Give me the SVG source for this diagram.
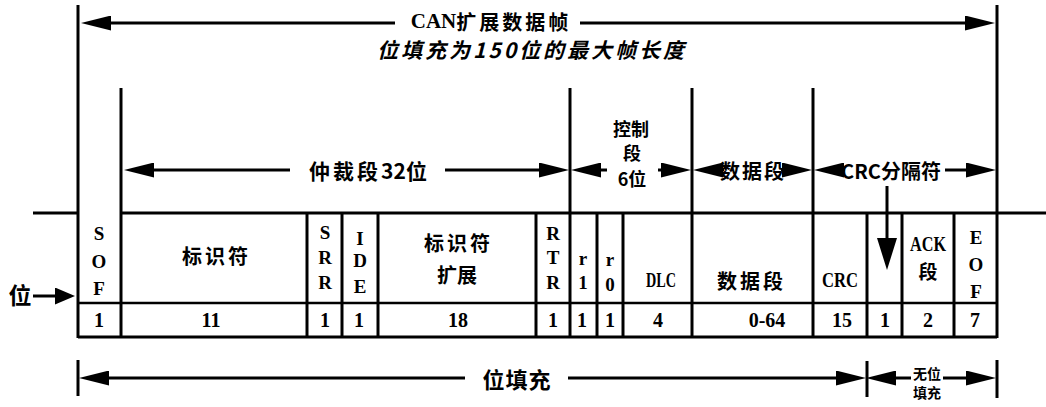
<svg xmlns="http://www.w3.org/2000/svg" width="1046" height="407" viewBox="0 0 1046 407">
<style>
.ln{stroke:#000;stroke-width:3;fill:none}
.thin{stroke:#000;stroke-width:2.5;fill:none}
.cj{font-family:"Noto Sans CJK SC","Noto Sans",sans-serif;font-weight:bold;fill:#000;text-anchor:middle;dominant-baseline:central}
.lt{font-family:"Liberation Serif","DejaVu Serif",serif;font-weight:bold;fill:#000;text-anchor:middle;dominant-baseline:central}
.num{font-size:20px}
.let{font-size:19px}
</style>
<defs>
<marker id="ah" viewBox="0 0 30 15" markerWidth="30" markerHeight="15" refX="1" refY="7.5" markerUnits="userSpaceOnUse" orient="auto">
<path d="M0,0 L30,7.5 L0,15 Z" fill="#000"/>
</marker>
<marker id="ahs" viewBox="0 0 20 17" markerWidth="20" markerHeight="17" refX="1" refY="8.5" markerUnits="userSpaceOnUse" orient="auto">
<path d="M0,0 L20,8.5 L0,17 Z" fill="#000"/>
</marker>
</defs>
<rect width="1046" height="407" fill="#fff"/>

<!-- frame and table lines -->
<g id="frame">
<line class="ln" x1="78" y1="5" x2="78" y2="338"/>
<line class="ln" x1="997" y1="5" x2="997" y2="338"/>
<line class="ln" x1="121" y1="88" x2="121" y2="338"/>
<line class="ln" x1="570" y1="88" x2="570" y2="338"/>
<line class="ln" x1="692" y1="88" x2="692" y2="338"/>
<line class="ln" x1="813" y1="88" x2="813" y2="338"/>
<line class="ln" x1="33" y1="213" x2="78" y2="213"/>
<line class="ln" x1="121" y1="213" x2="1046" y2="213"/>
<line class="thin" x1="78" y1="303" x2="997" y2="303"/>
<line class="ln" x1="78" y1="337" x2="997" y2="337"/>
<line class="ln" x1="307" y1="213" x2="307" y2="338"/>
<line class="ln" x1="342" y1="213" x2="342" y2="338"/>
<line class="ln" x1="378" y1="213" x2="378" y2="338"/>
<line class="ln" x1="536" y1="213" x2="536" y2="338"/>
<line class="ln" x1="597" y1="213" x2="597" y2="338"/>
<line class="ln" x1="623" y1="213" x2="623" y2="338"/>
<line class="ln" x1="867" y1="213" x2="867" y2="338"/>
<line class="ln" x1="902" y1="213" x2="902" y2="338"/>
<line class="ln" x1="954" y1="213" x2="954" y2="338"/>
</g>

<!-- titles -->
<g id="title">
<text class="cj" x="491" y="21" font-size="20"><tspan font-family="Liberation Serif,serif" font-size="21">CAN</tspan><tspan letter-spacing="3">扩展数据帧</tspan></text>
<text class="cj" x="532" y="49" font-size="21" font-style="italic" letter-spacing="3">位填充为150位的最大帧长度</text>
</g>

<!-- section labels -->
<g id="sec-arb"><text class="cj" x="368" y="170" font-size="21"><tspan letter-spacing="3">仲裁段</tspan>32位</text></g>
<g id="sec-ctrl">
<text class="cj" x="631" y="128" font-size="18">控制</text>
<text class="cj" x="632" y="152" font-size="18">段</text>
<text class="cj" x="632" y="178" font-size="18">6位</text>
</g>
<g id="sec-data"><text class="cj" x="752" y="170" font-size="20" textLength="64" lengthAdjust="spacing">数据段</text></g>
<g id="sec-crc"><text class="cj" x="891" y="170" font-size="20">CRC分隔符</text></g>

<!-- cells -->
<g id="c-sof">
<text class="lt let" x="99" y="233">S</text><text class="lt let" x="99" y="261">O</text><text class="lt let" x="99" y="288">F</text>
<text class="lt num" x="99" y="320">1</text>
</g>
<g id="c-id">
<text class="cj" x="215" y="255" font-size="20" textLength="66" lengthAdjust="spacing">标识符</text>
<text class="lt num" x="211" y="320">11</text>
</g>
<g id="c-srr">
<text class="lt let" x="325" y="232">S</text><text class="lt let" x="325" y="257">R</text><text class="lt let" x="325" y="282">R</text>
<text class="lt num" x="325" y="320">1</text>
</g>
<g id="c-ide">
<text class="lt let" x="360" y="238">I</text><text class="lt let" x="360" y="260">D</text><text class="lt let" x="360" y="286">E</text>
<text class="lt num" x="359" y="320">1</text>
</g>
<g id="c-idext">
<text class="cj" x="457" y="242" font-size="20" textLength="66" lengthAdjust="spacing">标识符</text>
<text class="cj" x="457" y="274" font-size="20">扩展</text>
<text class="lt num" x="458" y="320">18</text>
</g>
<g id="c-rtr">
<text class="lt let" x="553" y="233">R</text><text class="lt let" x="553" y="257">T</text><text class="lt let" x="553" y="282">R</text>
<text class="lt num" x="553" y="320">1</text>
</g>
<g id="c-r1">
<text class="lt let" x="583" y="258">r</text><text class="lt let" x="583" y="282">1</text>
<text class="lt num" x="582" y="320">1</text>
</g>
<g id="c-r0">
<text class="lt let" x="610" y="259">r</text><text class="lt let" x="610" y="284">0</text>
<text class="lt num" x="610" y="320">1</text>
</g>
<g id="c-dlc">
<text class="lt" x="661" y="279" font-size="22" textLength="30" lengthAdjust="spacingAndGlyphs">DLC</text>
<text class="lt num" x="658" y="320">4</text>
</g>
<g id="c-data">
<text class="cj" x="750" y="280" font-size="20" textLength="66" lengthAdjust="spacing">数据段</text>
<text class="lt num" x="767" y="320">0-64</text>
</g>
<g id="c-crc">
<text class="lt" x="840" y="279" font-size="22" textLength="36" lengthAdjust="spacingAndGlyphs">CRC</text>
<text class="lt num" x="842" y="320">15</text>
</g>
<g id="c-delim">
<text class="lt num" x="885" y="320">1</text>
</g>
<g id="c-ack">
<text class="lt" x="928" y="244" font-size="21" textLength="36" lengthAdjust="spacingAndGlyphs">ACK</text>
<text class="cj" x="928" y="270" font-size="19">段</text>
<text class="lt num" x="928" y="320">2</text>
</g>
<g id="c-eof">
<text class="lt let" x="976" y="237">E</text><text class="lt let" x="976" y="264">O</text><text class="lt let" x="976" y="291">F</text>
<text class="lt num" x="975" y="320">7</text>
</g>

<g id="bit-label"><text class="cj" x="20" y="294" font-size="23">位</text></g>

<g id="bottom-labels">
<text class="cj" x="517" y="378" font-size="22" letter-spacing="1">位填充</text>
<text class="cj" x="927" y="373" font-size="14">无位</text>
<text class="cj" x="927" y="392" font-size="14">填充</text>
</g>

<!-- connectors -->
<g id="connectors">
<line class="ln" x1="395" y1="23" x2="110" y2="23" marker-end="url(#ah)"/>
<line class="ln" x1="580" y1="23" x2="966" y2="23" marker-end="url(#ah)"/>
<line class="ln" x1="290" y1="170" x2="153" y2="170" marker-end="url(#ah)"/>
<line class="ln" x1="445" y1="170" x2="540" y2="170" marker-end="url(#ah)"/>
<line class="ln" x1="607" y1="170" x2="600" y2="170" marker-end="url(#ah)"/>
<line class="ln" x1="658" y1="170" x2="662" y2="170" marker-end="url(#ah)"/>
<line class="ln" x1="724" y1="170" x2="722" y2="170" marker-end="url(#ah)"/>
<line class="ln" x1="781" y1="170" x2="783" y2="170" marker-end="url(#ah)"/>
<line class="ln" x1="845" y1="170" x2="843" y2="170" marker-end="url(#ah)"/>
<line class="ln" x1="945" y1="170" x2="967" y2="170" marker-end="url(#ah)"/>
<line class="ln" x1="887" y1="186" x2="887" y2="238"/>
<path d="M877,238 L897,238 L887,270 Z" fill="#000"/>
<line class="ln" x1="33" y1="296" x2="56" y2="296" marker-end="url(#ahs)"/>
<line class="ln" x1="78" y1="360" x2="78" y2="396"/>
<line class="ln" x1="867" y1="361" x2="867" y2="397"/>
<line class="ln" x1="997" y1="360" x2="997" y2="398"/>
<line class="ln" x1="465" y1="378" x2="108" y2="378" marker-end="url(#ah)"/>
<line class="ln" x1="568" y1="378" x2="837" y2="378" marker-end="url(#ah)"/>
<line class="ln" x1="911" y1="378" x2="895" y2="378" marker-end="url(#ah)"/>
<line class="ln" x1="943" y1="378" x2="967" y2="378" marker-end="url(#ah)"/>
</g>
</svg>
